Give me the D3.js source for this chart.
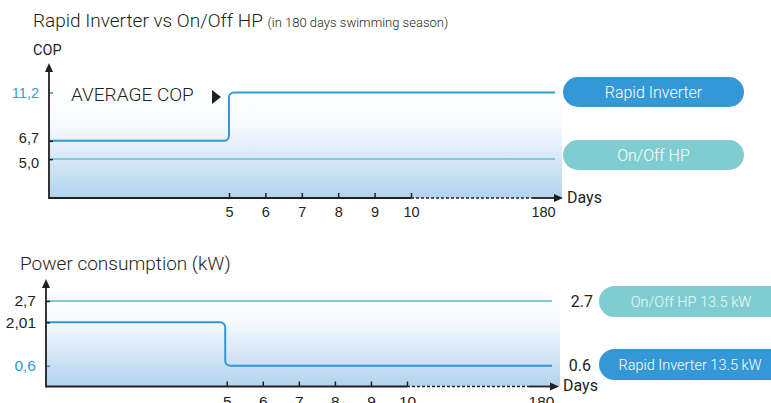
<!DOCTYPE html>
<html>
<head>
<meta charset="utf-8">
<script src="https://cdn.jsdelivr.net/npm/d3@7"></script>
<style>
  body { margin: 0; background: #fff; }
  svg { display: block; font-family: Roboto, "Noto Sans", sans-serif; }
</style>
</head>
<body>
<svg id="chart" width="771" height="403"></svg>
<script>
// data
var days = [0, 5, 180];
var copRapid = [6.7, 11.2, 11.2];
var copOnOff = [5.0, 5.0, 5.0];
var powerRapid = [2.01, 0.6, 0.6];
var powerOnOff = [2.7, 2.7, 2.7];

var dayTicks = [5, 6, 7, 8, 9, 10, 180];
var copTicks = [5.0, 6.7, 11.2];
var copTickLabels = ["5,0", "6,7", "11,2"];
var powerTicks = [0.6, 2.01, 2.7];
var powerTickLabels = ["0,6", "2,01", "2,7"];

var blue = "#3598d6",
  teal = "#7fcdd0",
  ink = "#231f20";

var svg = d3.select("#chart");

var defs = svg.append("defs");
var grad = defs
  .append("linearGradient")
  .attr("id", "bg")
  .attr("x1", 0)
  .attr("y1", 0)
  .attr("x2", 0)
  .attr("y2", 1);
grad.append("stop").attr("offset", "0%").attr("stop-color", "#ffffff");
grad.append("stop").attr("offset", "35%").attr("stop-color", "#f6f9fd");
grad.append("stop").attr("offset", "100%").attr("stop-color", "#b2d3ef");

function drawPanel(o) {
  var g = svg.append("g");
  var x = d3.scaleLinear().domain([0, 10, 180]).range(o.xRange);
  var y = d3.scaleLinear().domain(o.yDomain).range([o.base, o.yTop]);
  var x0 = o.axisX;

  // background
  g.append("rect")
    .attr("x", x0)
    .attr("y", o.bgTop)
    .attr("width", o.bgRight - x0)
    .attr("height", o.base - o.bgTop)
    .attr("fill", "url(#bg)");

  // flat series
  g.append("line")
    .attr("x1", x0)
    .attr("x2", o.lineEnd)
    .attr("y1", y(o.flat[0]))
    .attr("y2", y(o.flat[0]))
    .attr("stroke", teal)
    .attr("stroke-width", 2);

  // step series with rounded corners
  var r = 5;
  var xs = x(days[1]) + o.stepShift;
  var p = d3.path();
  p.moveTo(x0, y(o.step[0]));
  p.arcTo(xs, y(o.step[0]), xs, y(o.step[1]), r);
  p.arcTo(xs, y(o.step[1]), o.lineEnd, y(o.step[1]), r);
  p.lineTo(o.lineEnd, y(o.step[1]));
  g.append("path")
    .attr("d", p.toString())
    .attr("fill", "none")
    .attr("stroke", blue)
    .attr("stroke-width", 2);

  // x axis
  var xAxis = d3
    .axisBottom(x)
    .tickValues(dayTicks)
    .tickSize(-5)
    .tickPadding(o.xPad)
    .tickFormat(d3.format("d"));
  var ga = g
    .append("g")
    .attr("transform", "translate(0," + o.base + ")")
    .call(xAxis);
  ga.select(".domain").remove();
  ga.selectAll(".tick line").attr("stroke", ink).attr("stroke-width", 1.5);
  ga.selectAll(".tick")
    .filter(function(d) {
      return d == 180;
    })
    .select("line")
    .remove();
  ga.selectAll(".tick text")
    .attr("fill", ink)
    .style("font-size", o.tickFont + "px")
    .attr("dy", "0.71em");

  var xa = o.arrowX;
  g.append("line")
    .attr("x1", x0)
    .attr("x2", x(10))
    .attr("y1", o.base)
    .attr("y2", o.base)
    .attr("stroke", ink)
    .attr("stroke-width", 1.8);
  g.append("line")
    .attr("x1", x(10))
    .attr("x2", xa - 30)
    .attr("y1", o.base)
    .attr("y2", o.base)
    .attr("stroke", ink)
    .attr("stroke-width", 1.5)
    .attr("stroke-dasharray", "3,2");
  g.append("line")
    .attr("x1", xa - 30)
    .attr("x2", xa - 6)
    .attr("y1", o.base)
    .attr("y2", o.base)
    .attr("stroke", ink)
    .attr("stroke-width", 1.8);
  g.append("path")
    .attr(
      "d",
      "M" + xa + "," + o.base + "L" + (xa - 9) + "," + (o.base - 4) + "L" + (xa - 9) + "," + (o.base + 4) + "Z"
    )
    .attr("fill", ink);
  g.append("text")
    .attr("x", xa + 4)
    .attr("y", o.base + o.daysDy)
    .attr("fill", ink)
    .style("font-size", "16px")
    .text("Days");

  // y axis
  var yAxis = d3
    .axisLeft(y)
    .tickValues(o.ticks)
    .tickSize(-4)
    .tickPadding(10)
    .tickFormat(function(d, i) {
      return o.tickLabels[i];
    });
  var gy = g
    .append("g")
    .attr("transform", "translate(" + x0 + ",0)")
    .call(yAxis);
  gy.select(".domain").remove();
  gy.selectAll(".tick line").attr("stroke-width", 1.5).attr("stroke", function(d) {
    return d == o.blueTick ? blue : ink;
  });
  gy.selectAll(".tick text")
    .style("font-size", o.tickFont + "px")
    .attr("dy", function(d) {
      return o.tickDy[o.ticks.indexOf(d)];
    })
    .attr("fill", function(d) {
      return d == o.blueTick ? blue : ink;
    });

  g.append("line")
    .attr("x1", x0)
    .attr("x2", x0)
    .attr("y1", o.base + 1)
    .attr("y2", o.arrowY + 6)
    .attr("stroke", ink)
    .attr("stroke-width", 1.8);
  g.append("path")
    .attr(
      "d",
      "M" + x0 + "," + o.arrowY + "L" + (x0 - 4) + "," + (o.arrowY + 9) + "L" + (x0 + 4) + "," + (o.arrowY + 9) + "Z"
    )
    .attr("fill", ink);

  return { g: g, x: x, y: y };
}

// ---- top panel: COP
var top = drawPanel({
  xRange: [47, 411, 543],
  yDomain: [1.38, 11.2],
  base: 198,
  yTop: 92.5,
  axisX: 49,
  bgTop: 88,
  bgRight: 562,
  lineEnd: 555,
  arrowX: 563,
  arrowY: 63,
  flat: copOnOff,
  step: copRapid,
  stepShift: 0,
  ticks: copTicks,
  tickLabels: copTickLabels,
  blueTick: 11.2,
  tickDy: ["0.55em", "0.1em", "0.32em"],
  tickFont: 14.5,
  xPad: 9,
  daysDy: 5
});

svg.append("text")
  .attr("x", 33)
  .attr("y", 27)
  .attr("fill", ink)
  .style("font-size", "19px")
  .style("font-weight", 300)
  .text("Rapid Inverter vs On/Off HP ")
  .append("tspan")
  .style("font-size", "13px")
  .text("(in 180 days swimming season)");

svg.append("text")
  .attr("x", 33)
  .attr("y", 55)
  .attr("fill", ink)
  .style("font-size", "14.5px")
  .text("COP");

svg.append("text")
  .attr("x", 71)
  .attr("y", 101)
  .attr("fill", ink)
  .style("font-size", "19px")
  .style("font-weight", 300)
  .text("AVERAGE COP");
svg.append("path")
  .attr("d", "M212,90L221,97L212,104Z")
  .attr("fill", ink);

// ---- bottom panel: power
var bottom = drawPanel({
  xRange: [46.4, 407, 541],
  yDomain: [-0.07, 2.7],
  base: 386.5,
  yTop: 301,
  axisX: 46,
  bgTop: 288,
  bgRight: 560,
  lineEnd: 552,
  arrowX: 559,
  arrowY: 279,
  flat: powerOnOff,
  step: powerRapid,
  stepShift: -1.5,
  ticks: powerTicks,
  tickLabels: powerTickLabels,
  blueTick: 0.6,
  tickDy: ["0.32em", "0.32em", "0.32em"],
  tickFont: 15.5,
  xPad: 9,
  daysDy: 4
});

svg.append("text")
  .attr("x", 20)
  .attr("y", 270)
  .attr("fill", ink)
  .style("font-size", "19px")
  .style("font-weight", 300)
  .text("Power consumption (kW)");

// ---- legend pills
function pill(x, y, w, h, fill, label, textColor, size, cx) {
  svg.append("rect")
    .attr("x", x)
    .attr("y", y)
    .attr("width", w)
    .attr("height", h)
    .attr("rx", h / 2)
    .attr("fill", fill);
  svg.append("text")
    .attr("x", cx || x + w / 2)
    .attr("y", y + h / 2)
    .attr("dy", "0.35em")
    .attr("text-anchor", "middle")
    .attr("fill", textColor)
    .style("font-size", size + "px")
    .style("font-weight", 300)
    .text(label);
}

pill(563, 77, 181, 30, blue, "Rapid Inverter", "#ffffff", 16);
pill(563, 140, 181, 30, teal, "On/Off HP", "#ffffff", 16);

pill(599, 286, 200, 31, teal, "On/Off HP 13.5 kW", "#eef9f9", 14.5, 691);
pill(599, 349, 200, 31, blue, "Rapid Inverter 13.5 kW", "#ffffff", 14.5, 690);

// value labels by the bottom pills
svg.append("text")
  .attr("x", 593)
  .attr("y", bottom.y(powerOnOff[0]))
  .attr("dy", "0.35em")
  .attr("text-anchor", "end")
  .attr("fill", ink)
  .style("font-size", "16px")
  .text(powerOnOff[0].toFixed(1));
svg.append("text")
  .attr("x", 591)
  .attr("y", bottom.y(powerRapid[2]))
  .attr("dy", "0.35em")
  .attr("text-anchor", "end")
  .attr("fill", ink)
  .style("font-size", "16px")
  .text(powerRapid[2].toFixed(1));
</script>
</body>
</html>
